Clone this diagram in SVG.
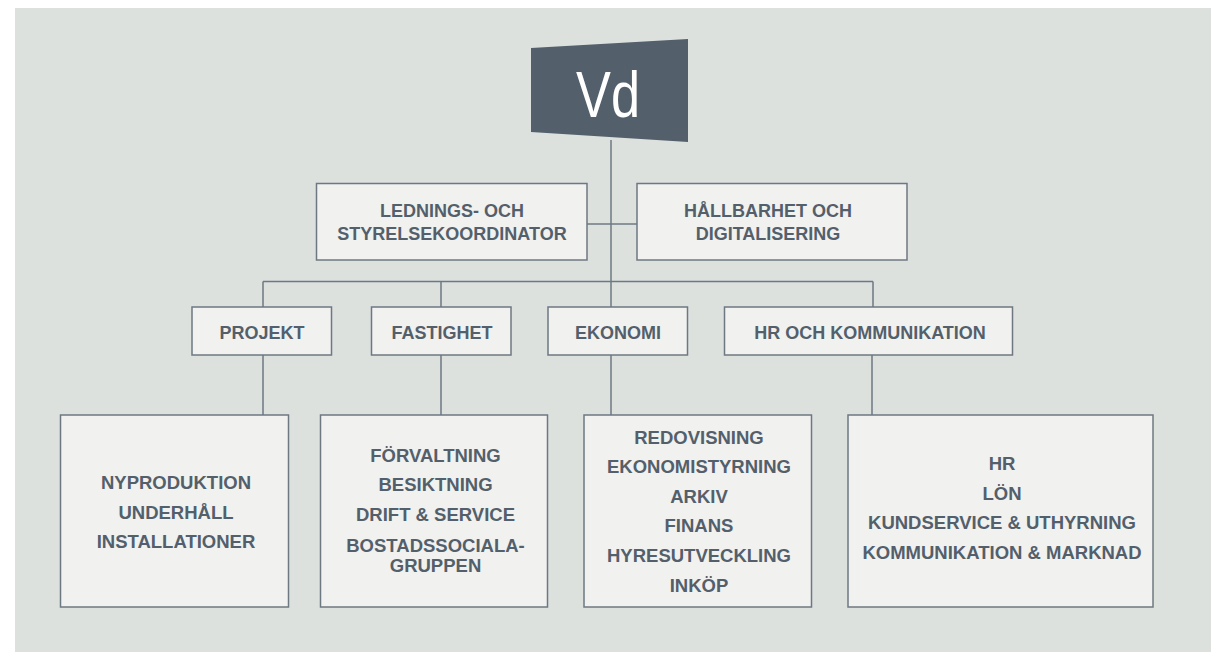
<svg xmlns="http://www.w3.org/2000/svg" width="1211" height="652" viewBox="0 0 1211 652">
<style>
.bg{fill:#dce1de}
.box{fill:#f1f1ef;stroke:#6e7882;stroke-width:1.5}
.t{font-family:"Liberation Sans",Arial,sans-serif;font-weight:bold;font-size:18px;fill:#535f6b;text-anchor:middle}
.l{font-size:18.5px}
.c{stroke:#6e7882;stroke-width:1.5;fill:none}
</style>
<rect class="bg" x="15" y="8" width="1196" height="644"/>
<g id="connectors">
<path class="c" d="M611 140 V415"/>
<path class="c" d="M587 224 H637"/>
<path class="c" d="M263 281.5 H873"/>
<path class="c" d="M263 281.5 V307 M441 281.5 V307 M873 281.5 V307"/>
<path class="c" d="M263 355 V415 M441 355 V415 M872 355 V415"/>
</g>
<g id="vd">
<polygon points="531,48 688,39 688,142 531,132" fill="#535f6b"/>
<text x="608" y="117" font-family="'Liberation Sans',Arial,sans-serif" font-size="64" fill="#ffffff" text-anchor="middle" textLength="64" lengthAdjust="spacingAndGlyphs">Vd</text>
</g>
<g id="ledning">
<rect class="box" x="316.5" y="183.5" width="270.5" height="76.5"/>
<text class="t" x="452" y="217">LEDNINGS- OCH</text>
<text class="t" x="452" y="240">STYRELSEKOORDINATOR</text>
</g>
<g id="hallbarhet">
<rect class="box" x="637" y="183.5" width="270" height="76.5"/>
<text class="t" x="768" y="217">HÅLLBARHET OCH</text>
<text class="t" x="768" y="240">DIGITALISERING</text>
</g>
<g id="projekt">
<rect class="box" x="192" y="307" width="139.5" height="48"/>
<text class="t" x="262" y="339">PROJEKT</text>
</g>
<g id="fastighet">
<rect class="box" x="371.5" y="307" width="139.5" height="48"/>
<text class="t" x="442" y="339">FASTIGHET</text>
</g>
<g id="ekonomi">
<rect class="box" x="548" y="307" width="139.5" height="48"/>
<text class="t" x="618" y="339">EKONOMI</text>
</g>
<g id="hr">
<rect class="box" x="724.5" y="307" width="288" height="48"/>
<text class="t" x="870" y="339">HR OCH KOMMUNIKATION</text>
</g>
<g id="projekt-list">
<rect class="box" x="60.5" y="415" width="228" height="192"/>
<text class="t l" x="176" y="489">NYPRODUKTION</text>
<text class="t l" x="176" y="518.5">UNDERHÅLL</text>
<text class="t l" x="176" y="548">INSTALLATIONER</text>
</g>
<g id="fastighet-list">
<rect class="box" x="320.5" y="415" width="227" height="192"/>
<text class="t l" x="435.5" y="462">FÖRVALTNING</text>
<text class="t l" x="435.5" y="491">BESIKTNING</text>
<text class="t l" x="435.5" y="521">DRIFT &amp; SERVICE</text>
<text class="t l" x="435.5" y="551.5">BOSTADSSOCIALA-</text>
<text class="t l" x="435.5" y="571.5">GRUPPEN</text>
</g>
<g id="ekonomi-list">
<rect class="box" x="584" y="415" width="227.5" height="192"/>
<text class="t l" x="699" y="444">REDOVISNING</text>
<text class="t l" x="699" y="473">EKONOMISTYRNING</text>
<text class="t l" x="699" y="502.5">ARKIV</text>
<text class="t l" x="699" y="532">FINANS</text>
<text class="t l" x="699" y="561.5">HYRESUTVECKLING</text>
<text class="t l" x="699" y="591.5">INKÖP</text>
</g>
<g id="hr-list">
<rect class="box" x="848" y="415" width="305" height="192"/>
<text class="t l" x="1002" y="470">HR</text>
<text class="t l" x="1002" y="499.5">LÖN</text>
<text class="t l" x="1002" y="529">KUNDSERVICE &amp; UTHYRNING</text>
<text class="t l" x="1002" y="558.5">KOMMUNIKATION &amp; MARKNAD</text>
</g>
</svg>
